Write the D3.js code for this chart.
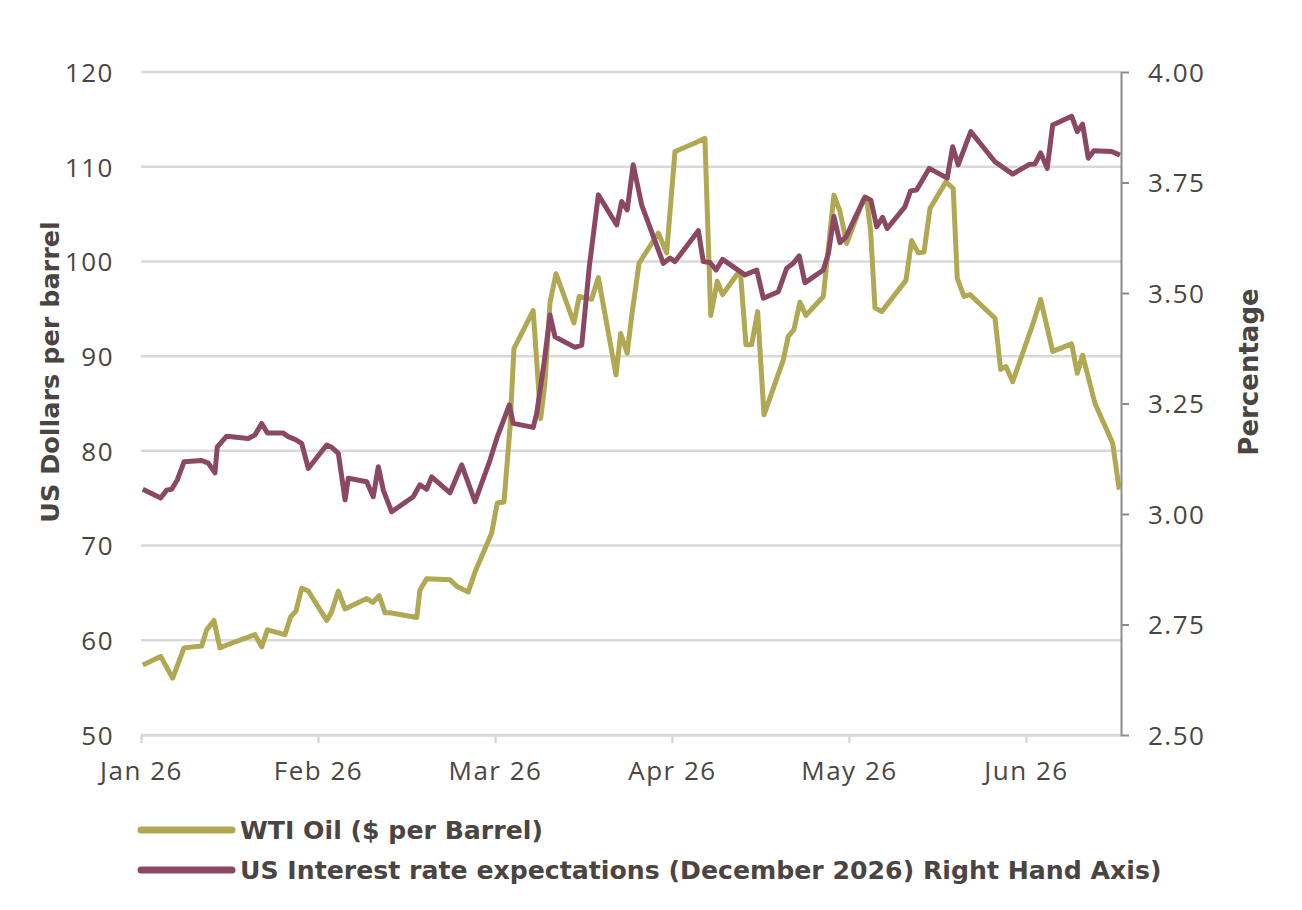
<!doctype html>
<html>
  <head>
    <meta charset="utf-8">
    <script src="https://d3js.org/d3.v7.min.js"></script>
    <style>
      body { margin:0; background:#fff; }
      svg { font-family:"DejaVu Sans", sans-serif; }
      .tick text { fill:#4a4542; font-size:26px; font-family:"Open Sans", sans-serif; letter-spacing:1.5px; }
    </style>
  </head>
  <body>
    <svg width="1302" height="910"></svg>
  </body>
  <script>
    // month labels on the bottom axis, one tick per month
    var months = ["Jan 26","Feb 26","Mar 26","Apr 26","May 26","Jun 26"];
    var leftTicks = [50,60,70,80,90,100,110,120];
    var rightTicks = [2.5,2.75,3,3.25,3.5,3.75,4];

    // position in months since 1 Jan
    var wtiT = [0.01,0.111,0.179,0.243,0.343,0.371,0.412,0.446,0.484,0.644,0.682,0.714,0.814,0.846,0.876,0.908,0.945,
      1.049,1.077,1.115,1.153,1.275,1.309,1.346,1.379,1.407,1.558,1.576,1.614,1.746,1.784,1.849,1.887,1.981,
      2.013,2.051,2.085,2.107,2.216,2.258,2.282,2.311,2.345,2.446,2.476,2.546,2.584,2.684,2.71,2.747,2.772,2.814,2.923,2.97,
      3.017,3.13,3.186,3.219,3.256,3.286,3.366,3.387,3.418,3.45,3.484,3.52,3.629,3.657,3.689,3.723,3.757,3.855,3.915,3.949,3.987,
      4.081,4.103,4.122,4.147,4.185,4.322,4.354,4.392,4.424,4.458,4.548,4.589,4.612,4.65,4.684,4.825,4.857,4.887,4.925,
      5.041,5.083,5.151,5.258,5.29,5.32,5.39,5.49,5.527];
    var wtiV = [57.4,58.3,56.0,59.2,59.4,61.1,62.1,59.2,59.5,60.6,59.3,61.1,60.6,62.5,63.1,65.5,65.2,
      62.1,63.0,65.2,63.3,64.4,64.0,64.7,62.9,62.9,62.4,65.3,66.5,66.4,65.7,65.1,67.2,71.3,
      74.5,74.6,82.5,90.8,94.8,83.4,87.1,95.7,98.7,93.5,96.3,96.0,98.3,88.0,92.4,90.3,94.2,99.8,103.0,100.9,
      111.6,112.5,113.0,94.3,97.9,96.5,98.6,98.8,91.2,91.2,94.7,83.8,89.6,92.1,92.8,95.7,94.3,96.3,107.0,105.3,101.9,
      106.5,106.1,103.3,95.1,94.7,98.0,102.2,100.9,101.0,105.6,108.4,107.7,98.2,96.3,96.5,94.0,88.6,88.9,87.3,
      93.5,96.0,90.5,91.3,88.2,90.1,85.0,80.8,75.9];

    var rateT = [0.01,0.111,0.145,0.173,0.205,0.243,0.343,0.38,0.418,0.431,0.484,0.606,0.644,0.682,0.714,0.804,0.832,0.87,0.908,0.945,
      1.049,1.077,1.115,1.153,1.171,1.275,1.312,1.341,1.369,1.416,1.538,1.576,1.614,1.642,1.746,1.812,1.887,1.972,
      2.01,2.081,2.103,2.216,2.236,2.277,2.311,2.339,2.452,2.49,2.533,2.584,2.688,2.716,2.747,2.781,2.829,2.951,2.989,
      3.017,3.149,3.177,3.215,3.249,3.286,3.412,3.479,3.516,3.601,3.648,3.682,3.719,3.751,3.855,3.884,3.915,3.949,3.983,
      4.09,4.124,4.157,4.19,4.216,4.316,4.348,4.382,4.454,4.555,4.586,4.617,4.688,4.825,4.925,
      5.019,5.051,5.083,5.12,5.151,5.258,5.29,5.32,5.352,5.384,5.484,5.531];
    var rateV = [3.056,3.036,3.054,3.056,3.077,3.118,3.121,3.115,3.093,3.152,3.176,3.171,3.179,3.205,3.183,3.183,3.175,3.169,3.160,3.103,
      3.156,3.151,3.137,3.032,3.081,3.073,3.039,3.107,3.054,3.005,3.039,3.066,3.056,3.084,3.048,3.111,3.028,3.122,
      3.171,3.247,3.205,3.196,3.228,3.341,3.450,3.401,3.377,3.382,3.560,3.722,3.654,3.707,3.688,3.790,3.699,3.567,3.579,
      3.571,3.641,3.571,3.569,3.552,3.576,3.541,3.552,3.488,3.503,3.556,3.566,3.584,3.523,3.552,3.590,3.673,3.614,3.627,
      3.717,3.710,3.650,3.671,3.646,3.695,3.731,3.733,3.782,3.760,3.831,3.790,3.865,3.797,3.769,
      3.791,3.792,3.817,3.782,3.880,3.900,3.865,3.882,3.805,3.822,3.820,3.812];

    var wtiName = "WTI Oil ($ per Barrel)";
    var rateName = "US Interest rate expectations (December 2026) Right Hand Axis)";

    var olive = "#b0a853", plum = "#8b4863", ink = "#4a4542";

    var svg = d3.select("svg");

    var xScale = d3.scaleLinear().domain([0,5.537]).range([141,1121]);
    var yLeft = d3.scaleLinear().domain([50,120]).range([735,72]);
    var yRight = d3.scaleLinear().domain([2.5,4]).range([735,72]);

    // horizontal gridlines
    svg.append("g").selectAll("line.grid")
      .data(leftTicks)
      .enter()
      .append("line")
      .attr("class","grid")
      .attr("x1",xScale(0))
      .attr("x2",xScale.range()[1])
      .attr("y1",d=>yLeft(d))
      .attr("y2",d=>yLeft(d))
      .attr("stroke","#d9d9d9")
      .attr("stroke-width",2.5);

    var xAxis = d3.axisBottom(xScale)
      .tickValues([0,1,2,3,4,5])
      .tickFormat(i=>months[i])
      .tickSize(8)
      .tickSizeOuter(0);
    var xg = svg.append("g").attr("transform","translate(0,735)").call(xAxis);
    xg.select(".domain").attr("stroke","#d9d9d9").attr("stroke-width",2.5);
    xg.selectAll(".tick line").attr("stroke","#d9d9d9").attr("stroke-width",2.5);
    xg.selectAll(".tick text").attr("y",45).attr("dy",0);

    var yAxisL = d3.axisLeft(yLeft).tickValues(leftTicks).tickSize(0).tickPadding(27);
    var ylg = svg.append("g").attr("transform","translate(141,0)").call(yAxisL);
    ylg.select(".domain").remove();
    ylg.selectAll(".tick text").attr("dy","0.36em");

    var yAxisR = d3.axisRight(yRight)
      .tickValues(rightTicks)
      .tickFormat(d3.format(".2f"))
      .tickSize(8)
      .tickSizeOuter(0)
      .tickPadding(19);
    var yrg = svg.append("g").attr("transform","translate(1121,0)").call(yAxisR);
    yrg.select(".domain").attr("stroke","#8c8c8c").attr("stroke-width",2);
    yrg.selectAll(".tick line").attr("stroke","#8c8c8c").attr("stroke-width",2);
    yrg.selectAll(".tick text").attr("dy","0.36em");

    // axis titles
    svg.append("text")
      .attr("transform","translate(59,372) rotate(-90)")
      .attr("text-anchor","middle")
      .attr("font-weight","bold")
      .attr("font-size",25.5)
      .attr("fill",ink)
      .text("US Dollars per barrel");
    svg.append("text")
      .attr("transform","translate(1258,372) rotate(-90)")
      .attr("text-anchor","middle")
      .attr("font-weight","bold")
      .attr("font-size",26)
      .attr("fill",ink)
      .text("Percentage");

    var wtiLine = d3.line()
      .x((d,i)=>xScale(wtiT[i]))
      .y(d=>yLeft(d));
    svg.append("path")
      .attr("d",wtiLine(wtiV))
      .attr("fill","none")
      .attr("stroke",olive)
      .attr("stroke-width",5)
      .attr("stroke-linejoin","round");

    var rateLine = d3.line()
      .x((d,i)=>xScale(rateT[i]))
      .y(d=>yRight(d));
    svg.append("path")
      .attr("d",rateLine(rateV))
      .attr("fill","none")
      .attr("stroke",plum)
      .attr("stroke-width",5)
      .attr("stroke-linejoin","round");

    // legend
    var legend = svg.append("g").selectAll("g.leg")
      .data([[wtiName,olive],[rateName,plum]])
      .enter()
      .append("g")
      .attr("class","leg")
      .attr("transform",(d,i)=>"translate(0,"+(830+i*40)+")");
    legend.append("line")
      .attr("x1",141).attr("x2",232)
      .attr("stroke",d=>d[1])
      .attr("stroke-width",7)
      .attr("stroke-linecap","round");
    legend.append("text")
      .attr("x",240)
      .attr("dy","0.36em")
      .attr("font-weight","bold")
      .attr("font-size",25.2)
      .attr("fill",ink)
      .text(d=>d[0]);
  </script>
</html>
